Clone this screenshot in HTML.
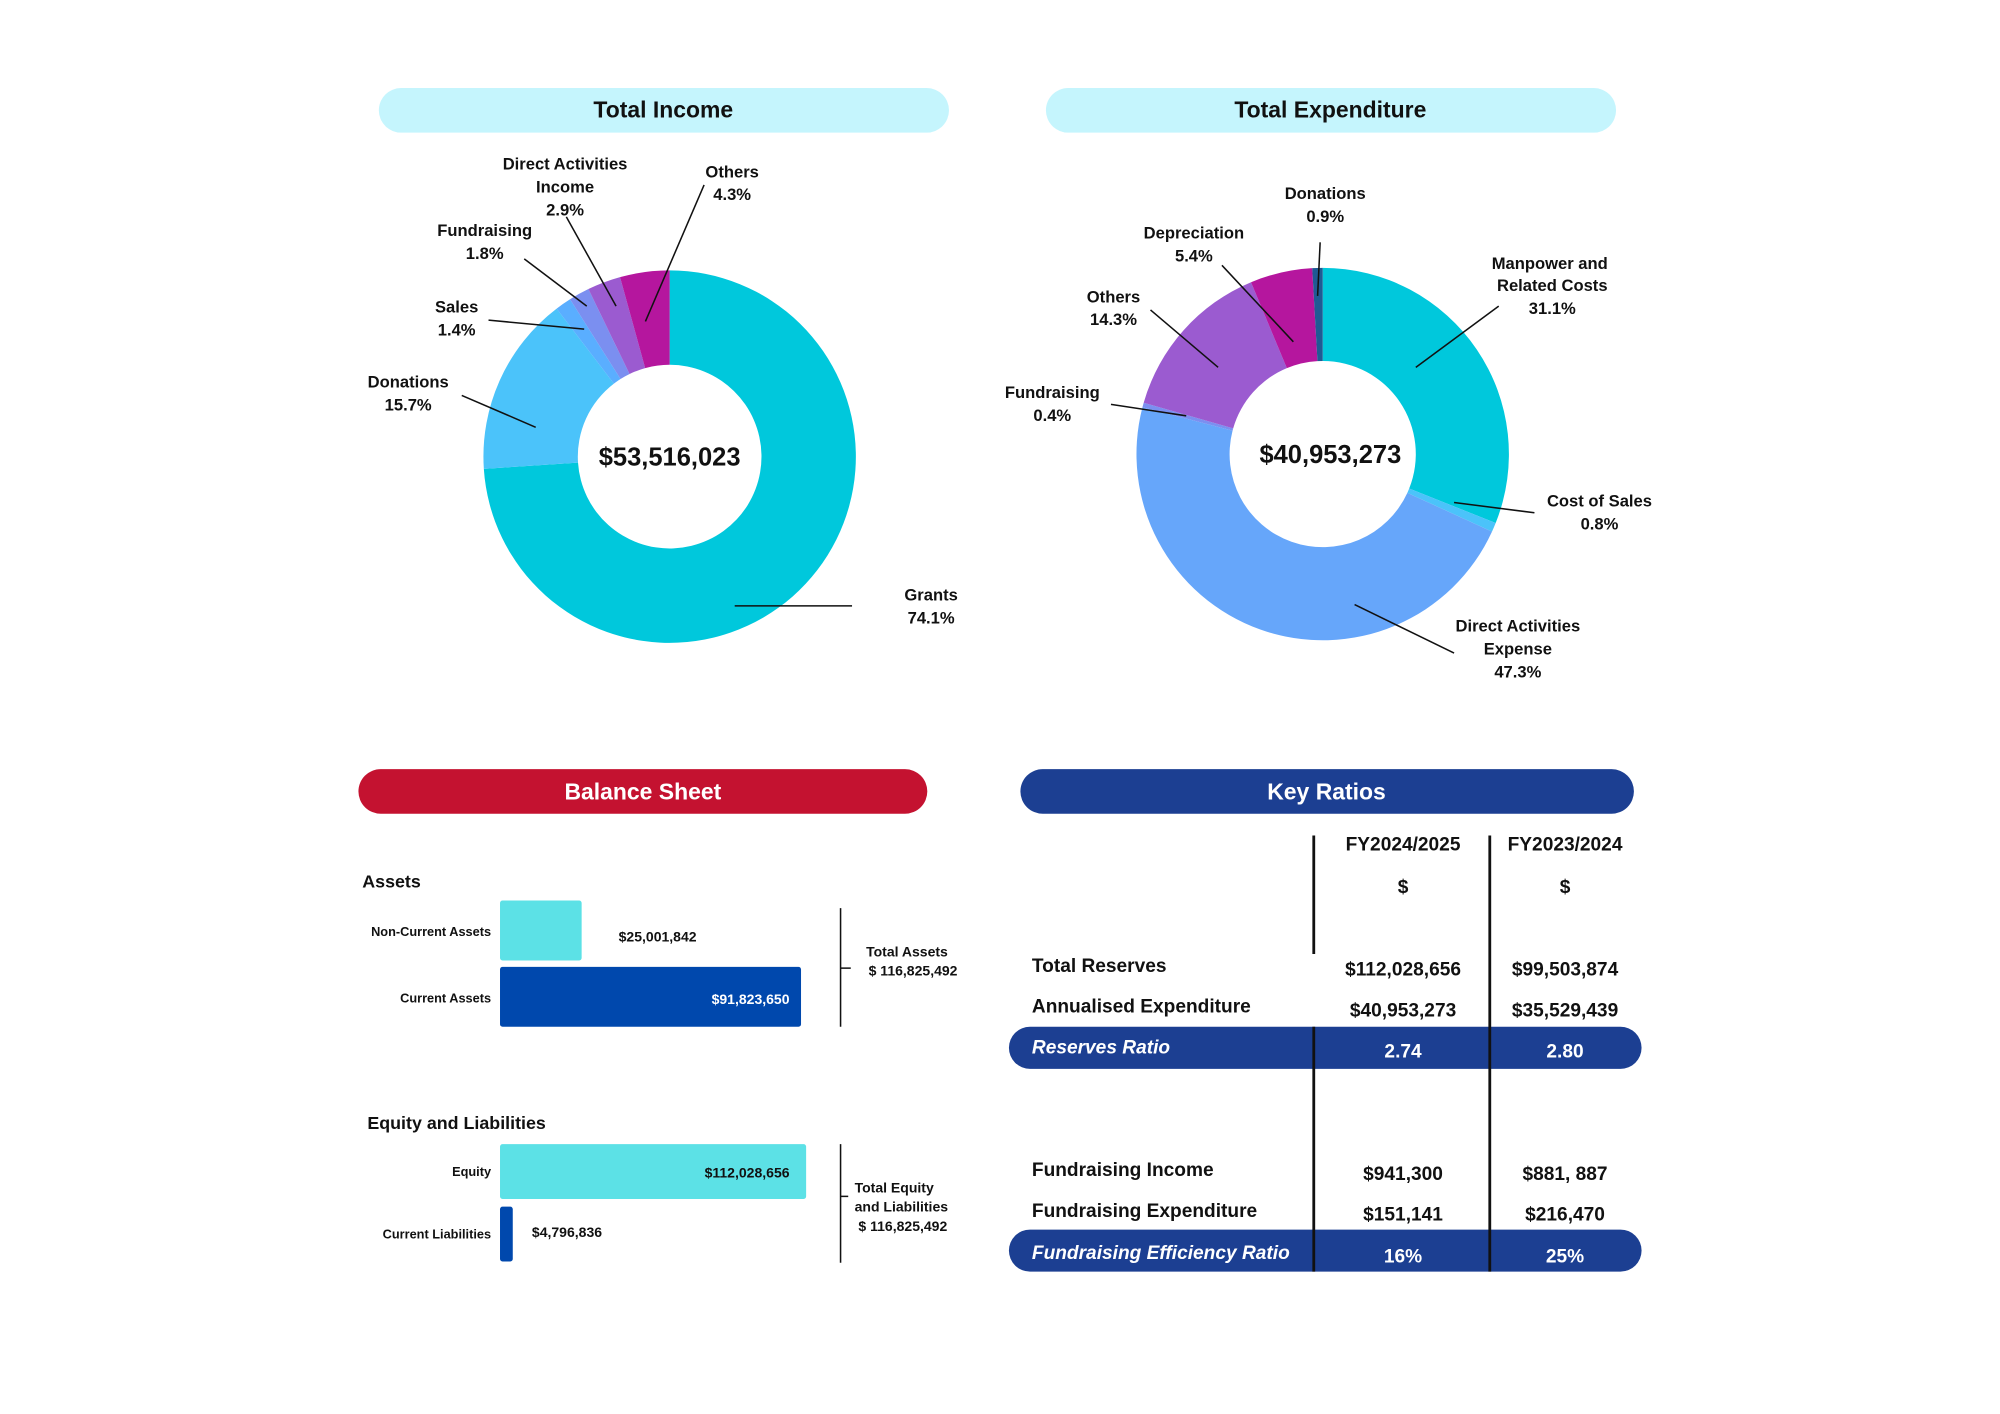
<!DOCTYPE html>
<html><head><meta charset="utf-8">
<style>
html,body{margin:0;padding:0;background:#fff;}
svg{display:block;}
text{font-family:"Liberation Sans",sans-serif;fill:#111;}
.l{font-size:13px;font-weight:bold;text-anchor:middle;}
.h{font-size:18px;font-weight:bold;text-anchor:middle;}
.b{font-weight:bold;}
</style></head>
<body>
<svg id="s" width="2000" height="1414" viewBox="0 0 1568 1108.6" xmlns="http://www.w3.org/2000/svg">
<rect width="1568" height="1109" fill="#fff"/>
<!-- headers -->
<rect x="297" y="69" width="447" height="35" rx="17.5" fill="#C5F5FD"/>
<text class="h" x="520" y="92">Total Income</text>
<rect x="820" y="69" width="447" height="35" rx="17.5" fill="#C5F5FD"/>
<text class="h" x="1043" y="92">Total Expenditure</text>
<rect x="281" y="603" width="446" height="35" rx="17.5" fill="#C41230"/>
<text class="h" x="504" y="627" style="fill:#fff">Balance Sheet</text>
<rect x="800" y="603" width="481" height="35" rx="17.5" fill="#1C3F92"/>
<text class="h" x="1040" y="627" style="fill:#fff">Key Ratios</text>

<g id="d1"></g><g id="d2"></g>
<text class="b" x="525" y="365" text-anchor="middle" font-size="20">$53,516,023</text>
<text class="b" x="1043" y="363" text-anchor="middle" font-size="20">$40,953,273</text>

<g stroke="#111" stroke-width="1.2" fill="none">
<path d="M576 475 L668 475"/><path d="M362 310 L420 335"/><path d="M383 251 L458 258"/>
<path d="M411 203 L460 240"/><path d="M444 170 L483 240"/><path d="M552 145 L506 252"/>
<path d="M1175 240 L1110 288"/><path d="M1140 394 L1203 402"/><path d="M1062 474 L1140 512"/>
<path d="M871 317 L930 326"/><path d="M902 243 L955 288"/><path d="M958 208 L1014 268"/><path d="M1035 190 L1033 232"/>
</g>
<g class="l">
<text class="l" x="730" y="471">Grants</text><text class="l" x="730" y="489">74.1%</text>
<text class="l" x="320" y="304">Donations</text><text class="l" x="320" y="322">15.7%</text>
<text class="l" x="358" y="245">Sales</text><text class="l" x="358" y="263">1.4%</text>
<text class="l" x="380" y="185">Fundraising</text><text class="l" x="380" y="203">1.8%</text>
<text class="l" x="443" y="133">Direct Activities</text><text class="l" x="443" y="151">Income</text><text class="l" x="443" y="169">2.9%</text>
<text class="l" x="574" y="139">Others</text><text class="l" x="574" y="157">4.3%</text>
<text class="l" x="1215" y="211">Manpower and</text><text class="l" x="1217" y="228">Related Costs</text><text class="l" x="1217" y="246">31.1%</text>
<text class="l" x="1254" y="397">Cost of Sales</text><text class="l" x="1254" y="415">0.8%</text>
<text class="l" x="1190" y="495">Direct Activities</text><text class="l" x="1190" y="513">Expense</text><text class="l" x="1190" y="531">47.3%</text>
<text class="l" x="825" y="312">Fundraising</text><text class="l" x="825" y="330">0.4%</text>
<text class="l" x="873" y="237">Others</text><text class="l" x="873" y="255">14.3%</text>
<text class="l" x="936" y="187">Depreciation</text><text class="l" x="936" y="205">5.4%</text>
<text class="l" x="1039" y="156">Donations</text><text class="l" x="1039" y="174">0.9%</text>
</g>

<!-- balance sheet -->
<text class="b" x="284" y="696" font-size="14">Assets</text>
<rect x="392" y="706" width="64" height="47" rx="2" fill="#5CE1E6"/>
<rect x="392" y="758" width="236" height="47" rx="2" fill="#0048AD"/>
<text class="b" x="385" y="734" font-size="10" text-anchor="end">Non-Current Assets</text>
<text class="b" x="385" y="786" font-size="10" text-anchor="end">Current Assets</text>
<text class="b" x="485" y="738" font-size="11">$25,001,842</text>
<text class="b" x="619" y="787" font-size="11" text-anchor="end" style="fill:#fff">$91,823,650</text>
<path d="M659 712 V805 M659 759 H667" stroke="#111" stroke-width="1.2"/>
<text class="b" x="679" y="750" font-size="11">Total Assets</text>
<text class="b" x="681" y="765" font-size="11">$ 116,825,492</text>

<text class="b" x="288" y="885" font-size="14">Equity and Liabilities</text>
<rect x="392" y="897" width="240" height="43" rx="2" fill="#5CE1E6"/>
<rect x="392" y="946" width="10" height="43" rx="2" fill="#0048AD"/>
<text class="b" x="385" y="922" font-size="10" text-anchor="end">Equity</text>
<text class="b" x="385" y="971" font-size="10" text-anchor="end">Current Liabilities</text>
<text class="b" x="619" y="923" font-size="11" text-anchor="end">$112,028,656</text>
<text class="b" x="417" y="970" font-size="11">$4,796,836</text>
<path d="M659 897 V990 M659 938 H665" stroke="#111" stroke-width="1.2"/>
<text class="b" x="670" y="935" font-size="11">Total Equity</text>
<text class="b" x="670" y="950" font-size="11">and Liabilities</text>
<text class="b" x="673" y="965" font-size="11">$ 116,825,492</text>

<!-- key ratios -->
<rect x="791" y="805" width="496" height="33" rx="16.5" fill="#1C3F92"/>
<rect x="791" y="964" width="496" height="33" rx="16.5" fill="#1C3F92"/>
<path d="M1030 655 V748 M1030 805 V997 M1168 655 V997" stroke="#111" stroke-width="2.2"/>
<g font-size="15" class="b" text-anchor="middle">
<text x="1100" y="667">FY2024/2025</text><text x="1227" y="667">FY2023/2024</text>
<text x="1100" y="700">$</text><text x="1227" y="700">$</text>
<text x="1100" y="765">$112,028,656</text><text x="1227" y="765">$99,503,874</text>
<text x="1100" y="797">$40,953,273</text><text x="1227" y="797">$35,529,439</text>
<text x="1100" y="829" style="fill:#fff">2.74</text><text x="1227" y="829" style="fill:#fff">2.80</text>
<text x="1100" y="925">$941,300</text><text x="1227" y="925">$881, 887</text>
<text x="1100" y="957">$151,141</text><text x="1227" y="957">$216,470</text>
<text x="1100" y="990" style="fill:#fff">16%</text><text x="1227" y="990" style="fill:#fff">25%</text>
</g>
<g font-size="15" class="b">
<text x="809" y="762">Total Reserves</text>
<text x="809" y="794">Annualised Expenditure</text>
<text x="809" y="826" font-style="italic" style="fill:#fff">Reserves Ratio</text>
<text x="809" y="922">Fundraising Income</text>
<text x="809" y="954">Fundraising Expenditure</text>
<text x="809" y="987" font-style="italic" style="fill:#fff">Fundraising Efficiency Ratio</text>
</g>
</svg>
<script>
function donut(id,cx,cy,R,r,segs){
  var g=document.getElementById(id),a=0,tot=segs.reduce(function(s,x){return s+x[0]},0);
  segs.forEach(function(sg){
    var a0=a,a1=a+sg[0]/tot*2*Math.PI;a=a1;
    function p(rr,t){return [cx+rr*Math.sin(t),cy-rr*Math.cos(t)];}
    var L=(a1-a0)>Math.PI?1:0,P1=p(R,a0),P2=p(R,a1),P3=p(r,a1),P4=p(r,a0);
    var d="M"+P1+" A"+R+" "+R+" 0 "+L+" 1 "+P2+" L"+P3+" A"+r+" "+r+" 0 "+L+" 0 "+P4+" Z";
    var e=document.createElementNS("http://www.w3.org/2000/svg","path");
    e.setAttribute("d",d);e.setAttribute("fill",sg[1]);g.appendChild(e);
  });
}
donut("d1",525,358,146,72,[[74.1,"#00C8DC"],[15.7,"#4BC3FA"],[1.4,"#5AAEFF"],[1.8,"#7B8FF0"],[2.9,"#9B5BD0"],[4.3,"#B5169E"]]);
donut("d2",1037,356,146,73,[[31.1,"#00C8DC"],[0.8,"#4BC3FA"],[47.3,"#66A6FA"],[0.4,"#7B8FF0"],[14.3,"#9B5BD0"],[5.4,"#B5169E"],[0.9,"#1F5A94"]]);
</script>
</body></html>
